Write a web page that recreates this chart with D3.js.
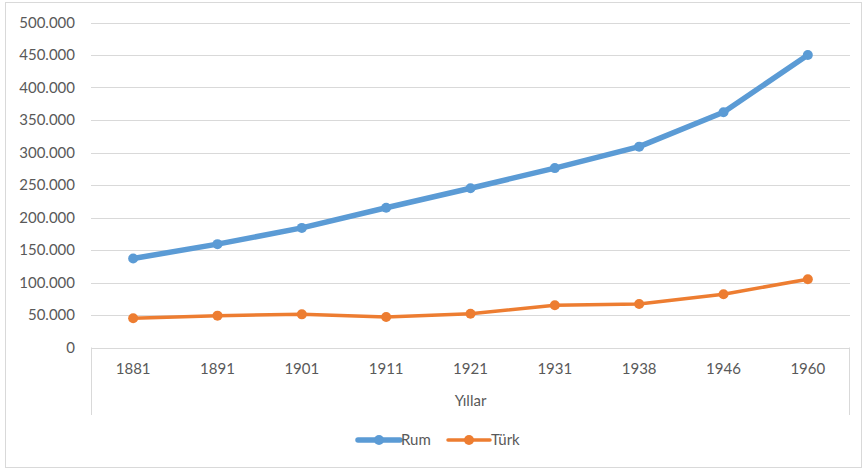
<!DOCTYPE html>
<html>
<head>
<meta charset="utf-8">
<script src="https://cdn.jsdelivr.net/npm/d3@7"></script>
<style>
  body { margin: 0; background: #fff; }
  svg { display: block; font-family: Lato, "Open Sans", sans-serif; }
</style>
</head>
<body>
<div id="chart"></div>
<script>
const years = ["1881", "1891", "1901", "1911", "1921", "1931", "1938", "1946", "1960"];
const rum = [137000, 159000, 184000, 215000, 245000, 276000, 309000, 362000, 450000];
const turk = [45000, 49000, 51000, 47000, 52000, 65000, 67000, 82000, 105000];
const yTicks = [0, 50000, 100000, 150000, 200000, 250000, 300000, 350000, 400000, 450000, 500000];

const series = [
    { name: "Rum", values: rum, color: "#5b9bd5", width: 5.5, r: 5 },
    { name: "Türk", values: turk, color: "#ed7d31", width: 3.5, r: 5 }
];

const width = 863;
const height = 471;
const plotLeft = 91, plotRight = 850, plotTop = 22.5, plotBottom = 347.5;
const textColor = "#595959";
const fontSize = 15;

const svg = d3.select("#chart")
    .append("svg")
    .attr("width", width)
    .attr("height", height);

// chart border
svg.append("rect")
    .attr("x", 5.5).attr("y", 2.5)
    .attr("width", 856).attr("height", 465)
    .attr("fill", "none")
    .attr("stroke", "#d9d9d9");

const x = d3.scaleBand()
    .domain(years)
    .range([plotLeft, plotRight]);

const y = d3.scaleLinear()
    .domain([0, 500000])
    .range([plotBottom, plotTop]);

const fmt = v => v === 0 ? "0" : d3.format(",")(v).replace(/,/g, ".");

// gridlines
svg.append("g")
    .selectAll("line")
    .data(yTicks.slice(1))
    .enter()
    .append("line")
    .attr("x1", plotLeft).attr("x2", plotRight)
    .attr("y1", d => Math.round(y(d)) + 0.5)
    .attr("y2", d => Math.round(y(d)) + 0.5)
    .attr("stroke", "#d9d9d9");

// y labels
svg.append("g")
    .selectAll("text")
    .data(yTicks)
    .enter()
    .append("text")
    .attr("x", 75)
    .attr("y", d => y(d))
    .attr("dy", "0.35em")
    .attr("text-anchor", "end")
    .attr("font-size", fontSize)
    .attr("fill", textColor)
    .text(fmt);

// category axis box
const axisBox = svg.append("g").attr("stroke", "#d9d9d9").attr("fill", "none");
axisBox.append("line")
    .attr("x1", plotLeft).attr("x2", plotRight)
    .attr("y1", Math.round(plotBottom) + 0.5).attr("y2", Math.round(plotBottom) + 0.5);
axisBox.append("line")
    .attr("x1", plotLeft + 0.5).attr("x2", plotLeft + 0.5)
    .attr("y1", plotBottom).attr("y2", 415);
axisBox.append("line")
    .attr("x1", plotRight - 0.5).attr("x2", plotRight - 0.5)
    .attr("y1", plotBottom).attr("y2", 415);

// x labels
svg.append("g")
    .selectAll("text")
    .data(years)
    .enter()
    .append("text")
    .attr("x", d => x(d) + x.bandwidth() / 2)
    .attr("y", 369)
    .attr("dy", "0.35em")
    .attr("text-anchor", "middle")
    .attr("font-size", fontSize)
    .attr("fill", textColor)
    .text(d => d);

svg.append("text")
    .attr("x", (plotLeft + plotRight) / 2)
    .attr("y", 401)
    .attr("dy", "0.35em")
    .attr("text-anchor", "middle")
    .attr("font-size", fontSize)
    .attr("fill", textColor)
    .text("Yıllar");

// lines
const line = d3.line()
    .x((d, i) => x(years[i]) + x.bandwidth() / 2)
    .y(d => y(d));

series.forEach(s => {
    const g = svg.append("g");
    g.append("path")
        .datum(s.values)
        .attr("d", line)
        .attr("fill", "none")
        .attr("stroke", s.color)
        .attr("stroke-width", s.width)
        .attr("stroke-linejoin", "round");
    g.selectAll("circle")
        .data(s.values)
        .enter()
        .append("circle")
        .attr("cx", (d, i) => x(years[i]) + x.bandwidth() / 2)
        .attr("cy", d => y(d))
        .attr("r", s.r)
        .attr("fill", s.color);
});

// legend
const legend = svg.append("g");
const legendX = [358, 448];
series.forEach((s, i) => {
    const lg = legend.append("g").attr("transform", `translate(${legendX[i]},440)`);
    lg.append("line")
        .attr("x1", 0).attr("x2", 42)
        .attr("stroke", s.color)
        .attr("stroke-width", s.width)
        .attr("stroke-linecap", "round");
    lg.append("circle")
        .attr("cx", 21).attr("r", s.r)
        .attr("fill", s.color);
    lg.append("text")
        .attr("x", 43)
        .attr("dy", "0.35em")
        .attr("font-size", fontSize)
        .attr("fill", textColor)
        .text(s.name);
});
</script>
</body>
</html>
